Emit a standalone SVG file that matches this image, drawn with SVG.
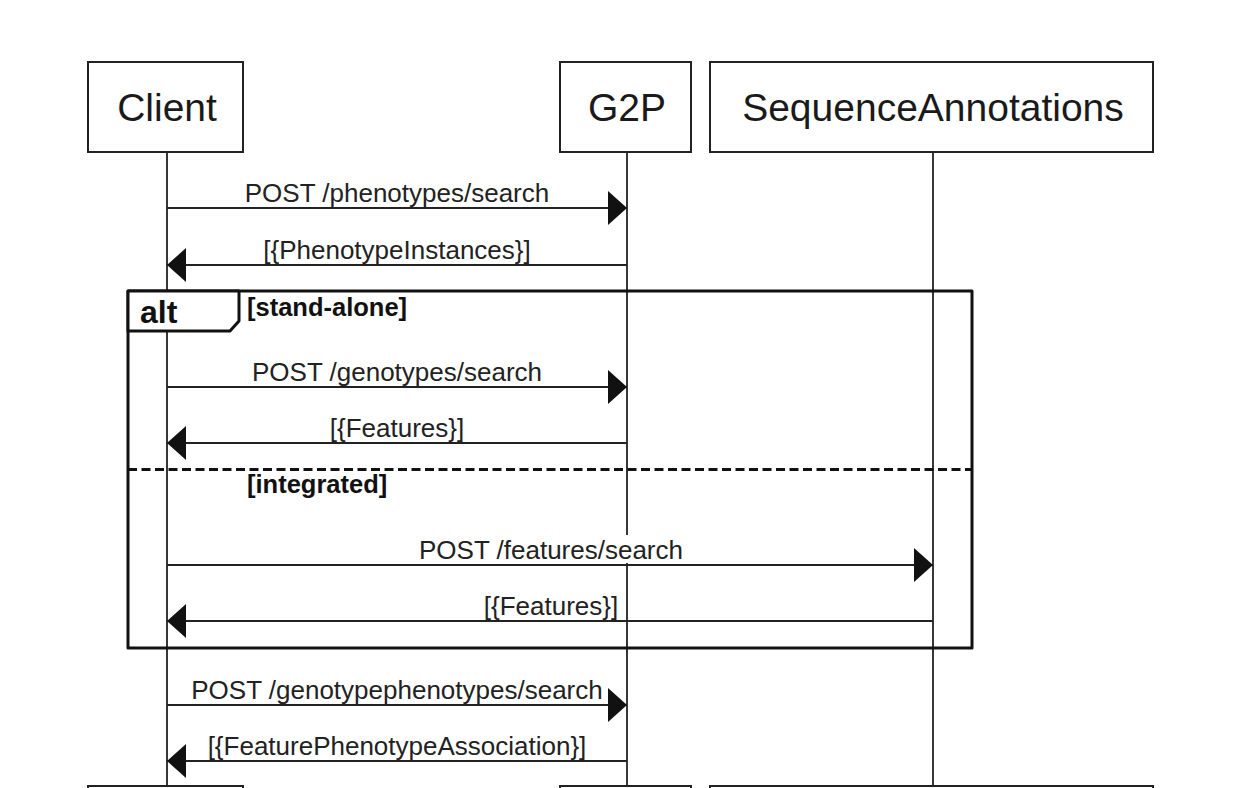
<svg xmlns="http://www.w3.org/2000/svg" width="1248" height="788" viewBox="0 0 1248 788">
<style>
.box{fill:#fff;stroke:#222;stroke-width:2}
.life{stroke:#222;stroke-width:1.8;fill:none}
.msg{stroke:#222;stroke-width:2;fill:none}
.pt{font-family:"Liberation Sans",Arial,sans-serif;font-size:39px;fill:#1a1a1a;text-anchor:middle}
.ml{font-family:"Liberation Sans",Arial,sans-serif;font-size:26px;fill:#222;text-anchor:middle}
.fl{font-family:"Liberation Sans",Arial,sans-serif;font-weight:bold;fill:#111}
.frame{fill:none;stroke:#111;stroke-width:3;stroke-linejoin:round}
</style>
<defs>
<marker id="arr" viewBox="0 0 19 34" refX="19" refY="17" markerWidth="19" markerHeight="34" markerUnits="userSpaceOnUse" orient="auto">
<path d="M0,0 L19,17 L0,34 Z" fill="#111"/>
</marker>
</defs>
<rect width="1248" height="788" fill="#fff"/>
<g id="lifelines">
<line class="life" x1="167" y1="152" x2="167" y2="786"/>
<line class="life" x1="627" y1="152" x2="627" y2="786"/>
<line class="life" x1="933" y1="152" x2="933" y2="786"/>
</g>
<g id="client">
<rect class="box" x="88" y="62" width="155" height="90"/>
<text class="pt" x="167" y="121">Client</text>
<rect class="box" x="88" y="786" width="155" height="90"/>
</g>
<g id="g2p">
<rect class="box" x="560" y="62" width="131" height="90"/>
<text class="pt" x="627" y="121">G2P</text>
<rect class="box" x="560" y="786" width="131" height="90"/>
</g>
<g id="sequenceannotations">
<rect class="box" x="710" y="62" width="443" height="90"/>
<text class="pt" x="933" y="121">SequenceAnnotations</text>
<rect class="box" x="710" y="786" width="443" height="90"/>
</g>
<g id="connectors">
<line class="msg" x1="167" y1="208" x2="627" y2="208" marker-end="url(#arr)"/>
<line class="msg" x1="627" y1="265" x2="167" y2="265" marker-end="url(#arr)"/>
<line class="msg" x1="167" y1="387" x2="627" y2="387" marker-end="url(#arr)"/>
<line class="msg" x1="627" y1="443" x2="167" y2="443" marker-end="url(#arr)"/>
<rect x="418" y="535" width="266" height="28" fill="#fff"/>
<line class="msg" x1="167" y1="565" x2="933" y2="565" marker-end="url(#arr)"/>
<line class="msg" x1="933" y1="621" x2="167" y2="621" marker-end="url(#arr)"/>
<line class="msg" x1="167" y1="705" x2="627" y2="705" marker-end="url(#arr)"/>
<line class="msg" x1="627" y1="761" x2="167" y2="761" marker-end="url(#arr)"/>
</g>
<g id="labels">
<text class="ml" x="397" y="201.5">POST /phenotypes/search</text>
<text class="ml" x="397" y="258.5">[{PhenotypeInstances}]</text>
<text class="ml" x="397" y="380.5">POST /genotypes/search</text>
<text class="ml" x="397" y="436.5">[{Features}]</text>
<text class="ml" x="551" y="558.5">POST /features/search</text>
<text class="ml" x="551" y="614.5">[{Features}]</text>
<text class="ml" x="397" y="698.5">POST /genotypephenotypes/search</text>
<text class="ml" x="397" y="754.5">[{FeaturePhenotypeAssociation}]</text>
</g>
<g id="alt-frame">
<rect class="frame" x="128" y="291" width="844" height="357"/>
<path class="frame" d="M128,291 H239 V321 L230,331 H128 Z" fill="#fff" style="fill:#fff"/>
<line x1="128" y1="469.5" x2="972" y2="469.5" stroke="#111" stroke-width="3" stroke-dasharray="9 4.5"/>
<text class="fl" x="140" y="323" font-size="32">alt</text>
<text class="fl" x="247" y="316" font-size="25.5">[stand-alone]</text>
<text class="fl" x="247" y="493" font-size="25.5">[integrated]</text>
</g>
</svg>
